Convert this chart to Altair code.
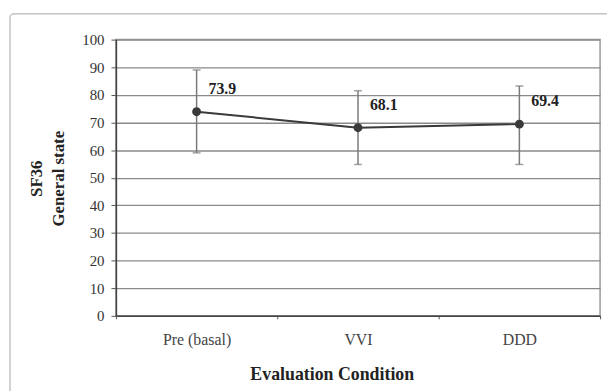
import altair as alt
import pandas as pd

conditions = ["Pre (basal)", "VVI", "DDD"]
means = [73.9, 68.1, 69.4]
upper = [89.0, 81.5, 83.2]
lower = [59.0, 54.8, 54.8]
labels = ["73.9", "68.1", "69.4"]
y_ticks = [0, 10, 20, 30, 40, 50, 60, 70, 80, 90, 100]

df = pd.DataFrame({"cond": conditions, "mean": means, "hi": upper, "lo": lower, "lab": labels})

W, H = 489, 279
FONT = "Liberation Serif"

x = alt.X("cond:N", sort=conditions,
          scale=alt.Scale(paddingInner=0, paddingOuter=0),
          axis=alt.Axis(title="Evaluation Condition", labelAngle=0, tickBand="extent",
                        labelFont=FONT, labelFontSize=16, labelColor="#444", labelPadding=13,
                        tickSize=3, tickColor="#555", domainColor="#444", domainWidth=1.5,
                        titleFont=FONT, titleFontSize=18, titleFontWeight="bold",
                        titleColor="#222", titleX=218, titleY=64, titleBaseline="alphabetic",
                        grid=False))
y_axis = alt.Axis(values=y_ticks, title=["SF36", "General state"],
                  labelFont=FONT, labelFontSize=15, labelColor="#333", labelPadding=7,
                  tickSize=5, tickColor="#555", domainColor="#444", domainWidth=1.5,
                  titleFont=FONT, titleFontSize=17, titleFontWeight="bold", titleColor="#222",
                  titleLineHeight=22, titleX=-75, titleY=140, titleAngle=-90,
                  titleBaseline="alphabetic", titleAlign="center",
                  grid=True, gridColor="#8a8a8a", gridWidth=1.3, labelOverlap=False)
y_scale = alt.Scale(domain=[0, 100], nice=False, zero=True)


def Y(field):
    return alt.Y(field, scale=y_scale, axis=y_axis)


base = alt.Chart(df)

frame = base.mark_rect(filled=False, stroke="#c4c4c4", strokeWidth=1.5, cornerRadius=4,
                       clip=False).encode(
    x=alt.value(-107), x2=alt.value(W + 40),
    y=alt.value(-26), y2=alt.value(H + 120)
).transform_filter(alt.datum.cond == "VVI")

err = base.mark_rule(color="#7a7a7a", strokeWidth=1.5).encode(x=x, y=Y("lo:Q"), y2="hi:Q")
cap_hi = base.mark_tick(color="#7a7a7a", thickness=1.5, size=8).encode(x=x, y=Y("hi:Q"))
cap_lo = base.mark_tick(color="#7a7a7a", thickness=1.5, size=8).encode(x=x, y=Y("lo:Q"))
line = base.mark_line(color="#3a3a3a", strokeWidth=2).encode(x=x, y=Y("mean:Q"))
pts = base.mark_circle(color="#3a3a3a", opacity=1, size=80).encode(x=x, y=Y("mean:Q"))
txt = base.mark_text(align="left", baseline="middle", dx=12, dy=-23, font=FONT,
                     fontSize=16, fontWeight="bold", color="#222").encode(
    x=x, y=Y("mean:Q"), text="lab:N")

chart = alt.layer(frame, err, cap_hi, cap_lo, line, pts, txt).properties(
    width=W, height=H,
    autosize=alt.AutoSizeParams(type="none"),
    padding={"left": 109, "top": 30, "right": 7, "bottom": 74},
    background="white",
).configure_view(stroke="#9a9a9a", strokeWidth=1.5)

chart.save("out.html", embed_options={"renderer": "svg", "actions": False})
